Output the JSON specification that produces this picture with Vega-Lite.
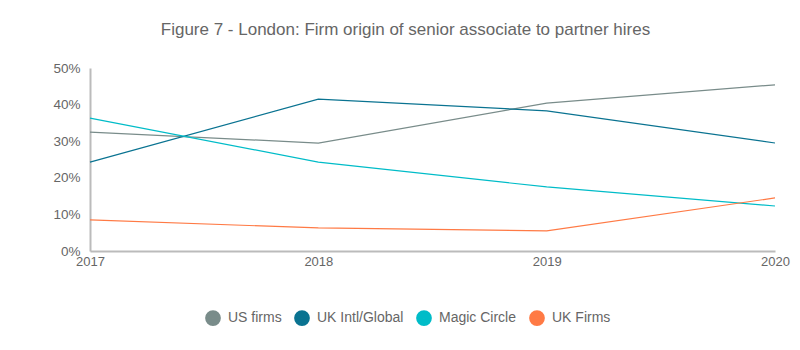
{
  "$schema": "https://vega.github.io/schema/vega-lite/v6.json",
  "autosize": {"type": "none"},
  "width": 685,
  "height": 183,
  "padding": {"left": 90, "top": 68, "right": 25, "bottom": 99},
  "background": "white",
  "config": {
    "view": {"stroke": null},
    "font": "Liberation Sans"
  },
  "title": {
    "text": "Figure 7 - London: Firm origin of senior associate to partner hires",
    "fontSize": 17,
    "fontWeight": "normal",
    "color": "#666666",
    "dx": -27,
    "offset": 22
  },
  "data": {
    "values": [
      {"year": 2017, "series": "US firms", "value": 0.325},
      {"year": 2018, "series": "US firms", "value": 0.295},
      {"year": 2019, "series": "US firms", "value": 0.404},
      {"year": 2020, "series": "US firms", "value": 0.454},
      {"year": 2017, "series": "UK Intl/Global", "value": 0.243},
      {"year": 2018, "series": "UK Intl/Global", "value": 0.415},
      {"year": 2019, "series": "UK Intl/Global", "value": 0.383},
      {"year": 2020, "series": "UK Intl/Global", "value": 0.295},
      {"year": 2017, "series": "Magic Circle", "value": 0.363},
      {"year": 2018, "series": "Magic Circle", "value": 0.243},
      {"year": 2019, "series": "Magic Circle", "value": 0.175},
      {"year": 2020, "series": "Magic Circle", "value": 0.123},
      {"year": 2017, "series": "UK Firms", "value": 0.085},
      {"year": 2018, "series": "UK Firms", "value": 0.063},
      {"year": 2019, "series": "UK Firms", "value": 0.055},
      {"year": 2020, "series": "UK Firms", "value": 0.145}
    ]
  },
  "mark": {"type": "line", "strokeWidth": 1.2},
  "encoding": {
    "x": {
      "field": "year",
      "type": "quantitative",
      "scale": {"domain": [2017, 2020], "nice": false, "zero": false},
      "axis": {
        "title": null,
        "values": [2017, 2018, 2019, 2020],
        "format": "d",
        "grid": false,
        "ticks": false,
        "labelFontSize": 13,
        "labelColor": "#666666",
        "labelPadding": 4,
        "domainColor": "#bbbbbb",
        "domainWidth": 2,
        "labelFlush": false
      }
    },
    "y": {
      "field": "value",
      "type": "quantitative",
      "scale": {"domain": [0, 0.5], "nice": false},
      "axis": {
        "title": null,
        "values": [0, 0.1, 0.2, 0.3, 0.4, 0.5],
        "format": ".0%",
        "grid": false,
        "ticks": false,
        "labelFontSize": 13.5,
        "labelColor": "#666666",
        "labelPadding": 10,
        "domainColor": "#bbbbbb",
        "domainWidth": 2
      }
    },
    "color": {
      "field": "series",
      "type": "nominal",
      "sort": ["US firms", "UK Intl/Global", "Magic Circle", "UK Firms"],
      "scale": {
        "domain": ["US firms", "UK Intl/Global", "Magic Circle", "UK Firms"],
        "range": ["#798C8A", "#0A7391", "#00BCC8", "#FF7A45"]
      },
      "legend": {
        "title": null,
        "orient": "none",
        "direction": "horizontal",
        "legendX": 115,
        "legendY": 242,
        "symbolType": "circle",
        "symbolSize": 60,
        "symbolStrokeWidth": 8,
        "labelFontSize": 14,
        "labelColor": "#666666",
        "columnPadding": 0,
        "labelOffset": 7
      }
    }
  }
}
